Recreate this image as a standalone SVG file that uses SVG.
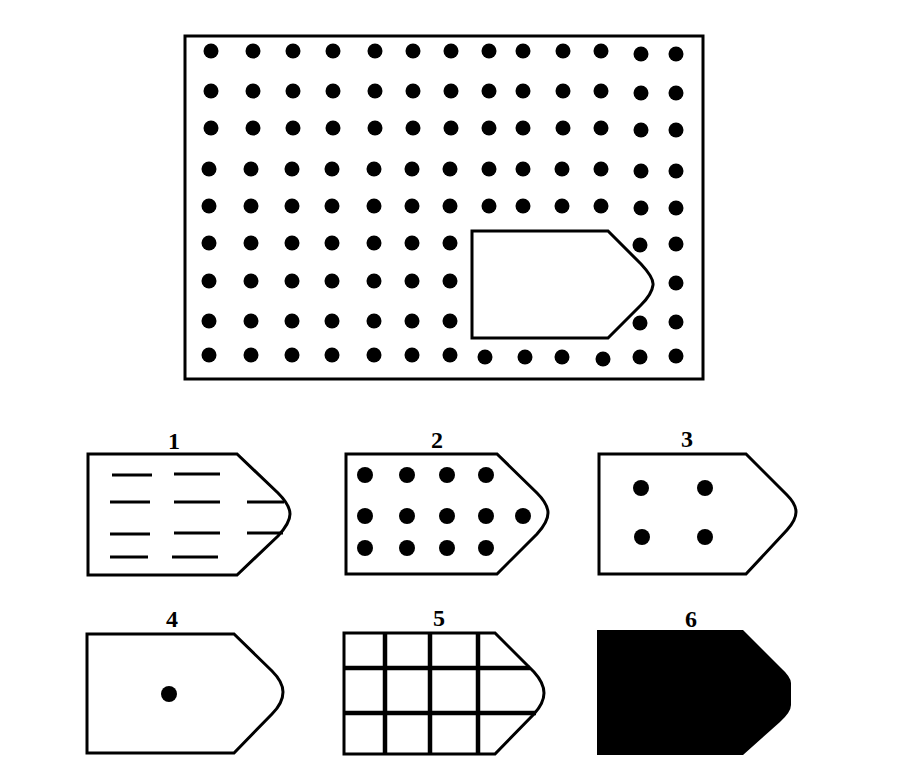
<svg xmlns="http://www.w3.org/2000/svg" width="904" height="780" viewBox="0 0 904 780">
<style>
.ol{fill:#fff;stroke:#000;stroke-width:3;stroke-linejoin:miter}
.d{fill:#000}
.ln{stroke:#000;stroke-width:3;fill:none}
.gr{stroke:#000;stroke-width:4.5;fill:none}
.lb{font-family:"Liberation Serif",serif;font-weight:bold;font-size:24px;fill:#000;text-anchor:middle}
</style>
<rect width="904" height="780" fill="#fff"/>
<g id="main">
<rect class="ol" x="185" y="36" width="518" height="343"/>
<g class="d">
<!-- rows 1-5 -->
<circle cx="211" cy="51" r="7.5"/><circle cx="253" cy="51" r="7.5"/><circle cx="293" cy="51" r="7.5"/><circle cx="333" cy="51" r="7.5"/><circle cx="375" cy="51" r="7.5"/><circle cx="413" cy="51" r="7.5"/><circle cx="451" cy="51" r="7.5"/><circle cx="489" cy="51" r="7.5"/><circle cx="523" cy="51" r="7.5"/><circle cx="563" cy="51" r="7.5"/><circle cx="601" cy="51" r="7.5"/><circle cx="641" cy="54" r="7.5"/><circle cx="676" cy="54" r="7.5"/>
<circle cx="211" cy="91" r="7.5"/><circle cx="253" cy="91" r="7.5"/><circle cx="293" cy="91" r="7.5"/><circle cx="333" cy="91" r="7.5"/><circle cx="375" cy="91" r="7.5"/><circle cx="413" cy="91" r="7.5"/><circle cx="451" cy="91" r="7.5"/><circle cx="489" cy="91" r="7.5"/><circle cx="523" cy="91" r="7.5"/><circle cx="563" cy="91" r="7.5"/><circle cx="601" cy="91" r="7.5"/><circle cx="641" cy="93" r="7.5"/><circle cx="676" cy="93" r="7.5"/>
<circle cx="211" cy="128" r="7.5"/><circle cx="253" cy="128" r="7.5"/><circle cx="293" cy="128" r="7.5"/><circle cx="333" cy="128" r="7.5"/><circle cx="375" cy="128" r="7.5"/><circle cx="413" cy="128" r="7.5"/><circle cx="451" cy="128" r="7.5"/><circle cx="489" cy="128" r="7.5"/><circle cx="523" cy="128" r="7.5"/><circle cx="563" cy="128" r="7.5"/><circle cx="601" cy="128" r="7.5"/><circle cx="641" cy="130" r="7.5"/><circle cx="676" cy="130" r="7.5"/>
<circle cx="209" cy="169" r="7.5"/><circle cx="251" cy="169" r="7.5"/><circle cx="292" cy="169" r="7.5"/><circle cx="332" cy="169" r="7.5"/><circle cx="374" cy="169" r="7.5"/><circle cx="412" cy="169" r="7.5"/><circle cx="450" cy="169" r="7.5"/><circle cx="489" cy="169" r="7.5"/><circle cx="523" cy="169" r="7.5"/><circle cx="562" cy="169" r="7.5"/><circle cx="601" cy="169" r="7.5"/><circle cx="641" cy="171" r="7.5"/><circle cx="676" cy="171" r="7.5"/>
<circle cx="209" cy="206" r="7.5"/><circle cx="251" cy="206" r="7.5"/><circle cx="292" cy="206" r="7.5"/><circle cx="332" cy="206" r="7.5"/><circle cx="374" cy="206" r="7.5"/><circle cx="412" cy="206" r="7.5"/><circle cx="450" cy="206" r="7.5"/><circle cx="489" cy="206" r="7.5"/><circle cx="523" cy="206" r="7.5"/><circle cx="562" cy="206" r="7.5"/><circle cx="601" cy="206" r="7.5"/><circle cx="641" cy="208" r="7.5"/><circle cx="676" cy="208" r="7.5"/>
<!-- rows 6-8 -->
<circle cx="209" cy="243" r="7.5"/><circle cx="251" cy="243" r="7.5"/><circle cx="292" cy="243" r="7.5"/><circle cx="332" cy="243" r="7.5"/><circle cx="374" cy="243" r="7.5"/><circle cx="412" cy="243" r="7.5"/><circle cx="450" cy="243" r="7.5"/><circle cx="640" cy="245" r="7.5"/><circle cx="676" cy="244" r="7.5"/>
<circle cx="209" cy="281" r="7.5"/><circle cx="251" cy="281" r="7.5"/><circle cx="292" cy="281" r="7.5"/><circle cx="332" cy="281" r="7.5"/><circle cx="374" cy="281" r="7.5"/><circle cx="412" cy="281" r="7.5"/><circle cx="450" cy="281" r="7.5"/><circle cx="676" cy="283" r="7.5"/>
<circle cx="209" cy="321" r="7.5"/><circle cx="251" cy="321" r="7.5"/><circle cx="292" cy="321" r="7.5"/><circle cx="332" cy="321" r="7.5"/><circle cx="374" cy="321" r="7.5"/><circle cx="412" cy="321" r="7.5"/><circle cx="450" cy="321" r="7.5"/><circle cx="640" cy="323" r="7.5"/><circle cx="676" cy="322" r="7.5"/>
<!-- row 9 -->
<circle cx="209" cy="355" r="7.5"/><circle cx="251" cy="355" r="7.5"/><circle cx="292" cy="355" r="7.5"/><circle cx="332" cy="355" r="7.5"/><circle cx="374" cy="355" r="7.5"/><circle cx="412" cy="355" r="7.5"/><circle cx="450" cy="355" r="7.5"/><circle cx="485" cy="357" r="7.5"/><circle cx="525" cy="357" r="7.5"/><circle cx="562" cy="357" r="7.5"/><circle cx="603" cy="359" r="7.5"/><circle cx="640" cy="357" r="7.5"/><circle cx="676" cy="356" r="7.5"/>
</g>
<path d="M472,231 H608 L641,264 Q654,278 653,285 Q652,294 641,305 L608,338 H472 Z" fill="none" stroke="#000" stroke-width="3"/>
</g>
<g id="opt1">
<path class="ol" d="M88,454 H237 L278,493 Q290,505 290,514 Q290,523 278,536 L237,575 H88 Z"/>
<g class="ln">
<line x1="112" y1="475" x2="152" y2="475"/><line x1="174" y1="474" x2="220" y2="474"/>
<line x1="110" y1="502" x2="150" y2="502"/><line x1="174" y1="502" x2="220" y2="502"/><line x1="247" y1="502" x2="284" y2="502"/>
<line x1="110" y1="534" x2="150" y2="534"/><line x1="174" y1="533" x2="220" y2="533"/><line x1="247" y1="533" x2="283" y2="533"/>
<line x1="110" y1="557" x2="148" y2="557"/><line x1="172" y1="557" x2="218" y2="557"/>
</g>
<text class="lb" x="174" y="449">1</text>
</g>
<g id="opt2">
<path class="ol" d="M346,454 H497 L537,493 Q548,504 548,513 Q548,522 537,534 L497,574 H346 Z"/>
<g class="d">
<circle cx="365" cy="475" r="8"/><circle cx="407" cy="475" r="8"/><circle cx="447" cy="475" r="8"/><circle cx="486" cy="475" r="8"/>
<circle cx="365" cy="516" r="8"/><circle cx="407" cy="516" r="8"/><circle cx="447" cy="516" r="8"/><circle cx="486" cy="516" r="8"/><circle cx="523" cy="516" r="8"/>
<circle cx="365" cy="548" r="8"/><circle cx="407" cy="548" r="8"/><circle cx="447" cy="548" r="8"/><circle cx="486" cy="548" r="8"/>
</g>
<text class="lb" x="437" y="448">2</text>
</g>
<g id="opt3">
<path class="ol" d="M599,454 H746 L787,495 Q796,504 796,512 Q796,520 787,530 L746,574 H599 Z"/>
<g class="d">
<circle cx="641" cy="488" r="8"/><circle cx="705" cy="488" r="8"/>
<circle cx="642" cy="537" r="8"/><circle cx="705" cy="537" r="8"/>
</g>
<text class="lb" x="687" y="447">3</text>
</g>
<g id="opt4">
<path class="ol" d="M87,634 H234 L272,671 Q283,682 283,692 Q283,703 272,714 L234,753 H87 Z"/>
<circle class="d" cx="169" cy="694" r="8"/>
<text class="lb" x="172" y="627">4</text>
</g>
<g id="opt5">
<path class="ol" d="M344,633 H495 L534,672 Q544,683 544,693 Q544,703 534,714 L495,754 H344 Z"/>
<g class="gr">
<line x1="385" y1="633" x2="385" y2="754"/>
<line x1="430" y1="633" x2="430" y2="754"/>
<line x1="478" y1="633" x2="478" y2="754"/>
<line x1="344" y1="668" x2="530" y2="668"/>
<line x1="344" y1="713" x2="536" y2="713"/>
</g>
<text class="lb" x="439" y="626">5</text>
</g>
<g id="opt6">
<path d="M597,630 H743 L780,667 Q791,677 791,683 V705 Q791,712 780,722 L743,755 H597 Z" fill="#000"/>
<text class="lb" x="691" y="627">6</text>
</g>
</svg>
